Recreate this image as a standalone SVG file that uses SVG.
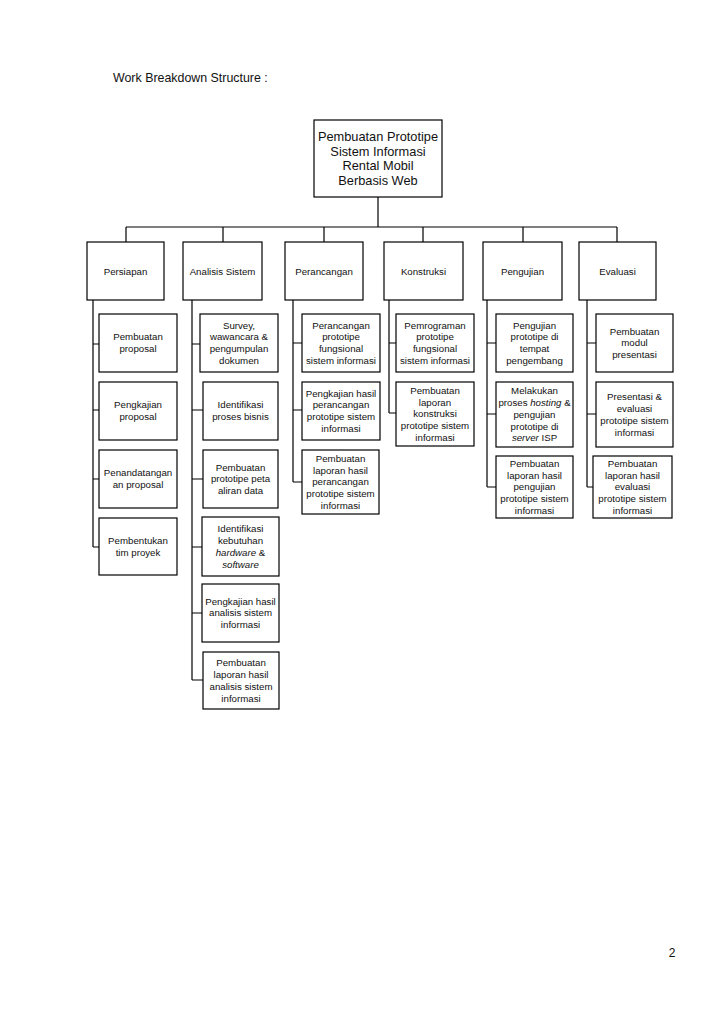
<svg xmlns="http://www.w3.org/2000/svg" width="728" height="1030" viewBox="0 0 728 1030">
<style>
.box{fill:#fff;stroke:#000;stroke-width:1.2}
.ln{fill:none;stroke:#000;stroke-width:1.2}
.t{font-family:"Liberation Sans",Arial,sans-serif;font-size:9.7px;text-anchor:middle;fill:#111}
.r{font-family:"Liberation Sans",Arial,sans-serif;font-size:12.8px;text-anchor:middle;fill:#111}
.i{font-style:italic}
</style>
<rect width="728" height="1030" fill="#fff"/>
<text x="113" y="82" style="font-family:'Liberation Sans',Arial,sans-serif;font-size:12.4px;fill:#111">Work Breakdown Structure :</text>
<text x="672" y="957" style="font-family:'Liberation Sans',Arial,sans-serif;font-size:12px;fill:#111;text-anchor:middle">2</text>

<g id="connectors">
<path class="ln" d="M378 197V227M126 227H617M126 227V242M223 227V242M324 227V242M423 227V242M523 227V242M617 227V242"/>
<path class="ln" d="M93 300V547M93 344H99M93 410H99M93 479H99M93 547H99"/>
<path class="ln" d="M192 300V680M192 344H200M192 410H203M192 479H203M192 547H202M192 613H202M192 680H203"/>
<path class="ln" d="M293 300V482M293 343H302M293 410H302M293 482H302"/>
<path class="ln" d="M389 300V413M389 343H396M389 413H396"/>
<path class="ln" d="M487 300V487M487 343H496M487 414H496M487 487H496"/>
<path class="ln" d="M587 300V487M587 343H596M587 414H596M587 487H593"/>
</g>

<g id="root"><rect class="box" x="314" y="120" width="128" height="77"/>
<text class="r"><tspan x="378" y="141">Pembuatan Prototipe</tspan><tspan x="378" y="155.7">Sistem Informasi</tspan><tspan x="378" y="170.4">Rental Mobil</tspan><tspan x="378" y="185">Berbasis Web</tspan></text></g>

<g id="persiapan"><rect class="box" x="87" y="242" width="77" height="58"/><text class="t" x="125.5" y="274.5">Persiapan</text></g>
<g id="analisis"><rect class="box" x="183" y="242" width="79" height="58"/><text class="t" x="222.5" y="274.5">Analisis Sistem</text></g>
<g id="perancangan"><rect class="box" x="285" y="242" width="78" height="58"/><text class="t" x="324" y="274.5">Perancangan</text></g>
<g id="konstruksi"><rect class="box" x="384" y="242" width="79" height="58"/><text class="t" x="423.5" y="274.5">Konstruksi</text></g>
<g id="pengujian"><rect class="box" x="483" y="242" width="79" height="58"/><text class="t" x="522.5" y="274.5">Pengujian</text></g>
<g id="evaluasi"><rect class="box" x="579" y="242" width="77" height="58"/><text class="t" x="617.5" y="274.5">Evaluasi</text></g>

<g id="p1"><rect class="box" x="99" y="314" width="78" height="58"/><text class="t"><tspan x="138" y="340.4">Pembuatan</tspan><tspan x="138" y="352.2">proposal</tspan></text></g>
<g id="p2"><rect class="box" x="99" y="382" width="78" height="58"/><text class="t"><tspan x="138" y="408.4">Pengkajian</tspan><tspan x="138" y="420.2">proposal</tspan></text></g>
<g id="p3"><rect class="box" x="99" y="450" width="78" height="58"/><text class="t"><tspan x="138" y="476.4">Penandatangan</tspan><tspan x="138" y="488.2">an proposal</tspan></text></g>
<g id="p4"><rect class="box" x="99" y="518" width="78" height="57"/><text class="t"><tspan x="138" y="543.9">Pembentukan</tspan><tspan x="138" y="555.7">tim proyek</tspan></text></g>

<g id="a1"><rect class="box" x="200" y="314" width="78" height="58"/><text class="t"><tspan x="239" y="328.6">Survey,</tspan><tspan x="239" y="340.4">wawancara &amp;</tspan><tspan x="239" y="352.2">pengumpulan</tspan><tspan x="239" y="364">dokumen</tspan></text></g>
<g id="a2"><rect class="box" x="203" y="382" width="75" height="58"/><text class="t"><tspan x="240.5" y="408.4">Identifikasi</tspan><tspan x="240.5" y="420.2">proses bisnis</tspan></text></g>
<g id="a3"><rect class="box" x="203" y="450" width="75" height="58"/><text class="t"><tspan x="240.5" y="470.5">Pembuatan</tspan><tspan x="240.5" y="482.3">prototipe peta</tspan><tspan x="240.5" y="494.1">aliran data</tspan></text></g>
<g id="a4"><rect class="box" x="202" y="517" width="77" height="59"/><text class="t"><tspan x="240.5" y="532.1">Identifikasi</tspan><tspan x="240.5" y="543.9">kebutuhan</tspan><tspan x="240.5" y="555.7"><tspan class="i">hardware</tspan> &amp;</tspan><tspan class="i" x="240.5" y="567.5">software</tspan></text></g>
<g id="a5"><rect class="box" x="202" y="584" width="77" height="58"/><text class="t"><tspan x="240.5" y="604.5">Pengkajian hasil</tspan><tspan x="240.5" y="616.3">analisis sistem</tspan><tspan x="240.5" y="628.1">informasi</tspan></text></g>
<g id="a6"><rect class="box" x="203" y="652" width="76" height="57"/><text class="t"><tspan x="241" y="666.1">Pembuatan</tspan><tspan x="241" y="677.9">laporan hasil</tspan><tspan x="241" y="689.7">analisis sistem</tspan><tspan x="241" y="701.5">informasi</tspan></text></g>

<g id="r1"><rect class="box" x="302" y="314" width="78" height="58"/><text class="t"><tspan x="341" y="328.6">Perancangan</tspan><tspan x="341" y="340.4">prototipe</tspan><tspan x="341" y="352.2">fungsional</tspan><tspan x="341" y="364">sistem informasi</tspan></text></g>
<g id="r2"><rect class="box" x="302" y="382" width="78" height="58"/><text class="t"><tspan x="341" y="396.6">Pengkajian hasil</tspan><tspan x="341" y="408.4">perancangan</tspan><tspan x="341" y="420.2">prototipe sistem</tspan><tspan x="341" y="432">informasi</tspan></text></g>
<g id="r3"><rect class="box" x="302" y="450" width="77" height="64"/><text class="t"><tspan x="340.5" y="461.7">Pembuatan</tspan><tspan x="340.5" y="473.5">laporan hasil</tspan><tspan x="340.5" y="485.3">perancangan</tspan><tspan x="340.5" y="497.1">prototipe sistem</tspan><tspan x="340.5" y="508.9">informasi</tspan></text></g>

<g id="k1"><rect class="box" x="396" y="314" width="78" height="58"/><text class="t"><tspan x="435" y="328.6">Pemrograman</tspan><tspan x="435" y="340.4">prototipe</tspan><tspan x="435" y="352.2">fungsional</tspan><tspan x="435" y="364">sistem informasi</tspan></text></g>
<g id="k2"><rect class="box" x="396" y="382" width="78" height="64"/><text class="t"><tspan x="435" y="393.7">Pembuatan</tspan><tspan x="435" y="405.5">laporan</tspan><tspan x="435" y="417.3">konstruksi</tspan><tspan x="435" y="429.1">prototipe sistem</tspan><tspan x="435" y="440.9">informasi</tspan></text></g>

<g id="u1"><rect class="box" x="496" y="314" width="77" height="58"/><text class="t"><tspan x="534.5" y="328.6">Pengujian</tspan><tspan x="534.5" y="340.4">prototipe di</tspan><tspan x="534.5" y="352.2">tempat</tspan><tspan x="534.5" y="364">pengembang</tspan></text></g>
<g id="u2"><rect class="box" x="496" y="382" width="77" height="65"/><text class="t"><tspan x="534.5" y="394.2">Melakukan</tspan><tspan x="534.5" y="406">proses <tspan class="i">hosting</tspan> &amp;</tspan><tspan x="534.5" y="417.8">pengujian</tspan><tspan x="534.5" y="429.6">prototipe di</tspan><tspan x="534.5" y="441.4"><tspan class="i">server</tspan> ISP</tspan></text></g>
<g id="u3"><rect class="box" x="496" y="456" width="77" height="62"/><text class="t"><tspan x="534.5" y="466.7">Pembuatan</tspan><tspan x="534.5" y="478.5">laporan hasil</tspan><tspan x="534.5" y="490.3">pengujian</tspan><tspan x="534.5" y="502.1">prototipe sistem</tspan><tspan x="534.5" y="513.9">informasi</tspan></text></g>

<g id="e1"><rect class="box" x="596" y="314" width="77" height="58"/><text class="t"><tspan x="634.5" y="334.5">Pembuatan</tspan><tspan x="634.5" y="346.3">modul</tspan><tspan x="634.5" y="358.1">presentasi</tspan></text></g>
<g id="e2"><rect class="box" x="596" y="382" width="77" height="65"/><text class="t"><tspan x="634.5" y="400.1">Presentasi &amp;</tspan><tspan x="634.5" y="411.9">evaluasi</tspan><tspan x="634.5" y="423.7">prototipe sistem</tspan><tspan x="634.5" y="435.5">informasi</tspan></text></g>
<g id="e3"><rect class="box" x="593" y="456" width="79" height="62"/><text class="t"><tspan x="632.5" y="466.7">Pembuatan</tspan><tspan x="632.5" y="478.5">laporan hasil</tspan><tspan x="632.5" y="490.3">evaluasi</tspan><tspan x="632.5" y="502.1">prototipe sistem</tspan><tspan x="632.5" y="513.9">informasi</tspan></text></g>
</svg>
